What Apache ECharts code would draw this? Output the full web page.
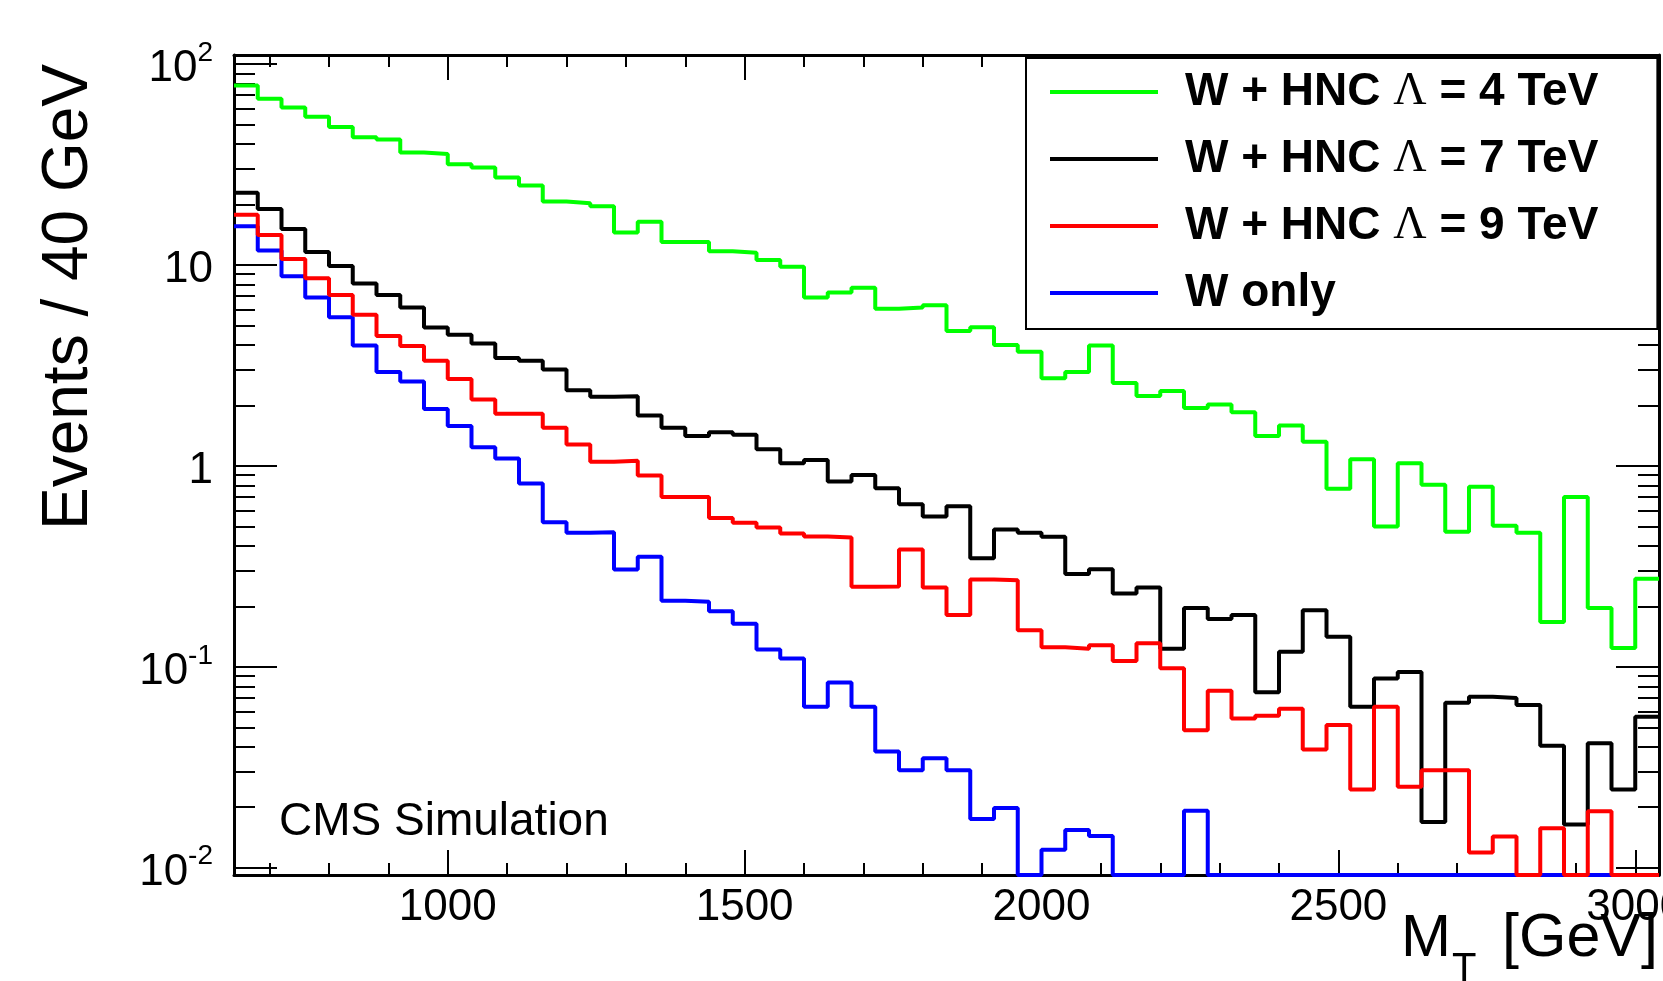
<!DOCTYPE html>
<html>

<head>
    <meta charset="utf-8">
    <title>M_T spectrum, W + HNC</title>
    <!-- Apache ECharts -->
    <script src="https://cdn.jsdelivr.net/npm/echarts@6.0.0/dist/echarts.min.js"></script>
    <style>
        html, body { margin: 0; padding: 0; background: #ffffff; }
        #myChart { width: 1663px; height: 981px; }
    </style>
</head>

<body>
    <div id="myChart"></div>

    <script>
        // bin edges of the histograms (GeV), 40 GeV per bin
        const binEdges = [640, 680, 720, 760, 800, 840, 880, 920, 960, 1000,
            1040, 1080, 1120, 1160, 1200, 1240, 1280, 1320, 1360, 1400,
            1440, 1480, 1520, 1560, 1600, 1640, 1680, 1720, 1760, 1800,
            1840, 1880, 1920, 1960, 2000, 2040, 2080, 2120, 2160, 2200,
            2240, 2280, 2320, 2360, 2400, 2440, 2480, 2520, 2560, 2600,
            2640, 2680, 2720, 2760, 2800, 2840, 2880, 2920, 2960, 3000, 3040];

        // events per bin, one value per bin
        const hnc4 = [78.3, 67.2, 60.9, 54.7, 48.7, 43.3, 42.2, 36.3, 35.7, 31.7,
            30.6, 27.3, 24.9, 20.7, 20.3, 19.6, 14.5, 16.4, 13.0, 13.0,
            11.7, 11.5, 10.6, 9.8, 6.9, 7.3, 7.7, 6.05, 6.15, 6.3,
            4.7, 4.9, 4.0, 3.7, 2.73, 2.93, 3.98, 2.59, 2.23, 2.36,
            1.94, 2.02, 1.85, 1.41, 1.59, 1.32, 0.77, 1.08, 0.50, 1.03,
            0.805, 0.47, 0.787, 0.503, 0.465, 0.167, 0.70, 0.196, 0.124, 0.274];
        const hnc7 = [22.9, 19.0, 15.1, 11.6, 9.9, 8.1, 7.1, 6.15, 4.89, 4.50,
            4.07, 3.44, 3.34, 3.02, 2.38, 2.21, 2.22, 1.78, 1.55, 1.41,
            1.47, 1.43, 1.21, 1.03, 1.07, 0.837, 0.90, 0.775, 0.645, 0.56,
            0.63, 0.347, 0.483, 0.465, 0.444, 0.29, 0.306, 0.232, 0.248, 0.123,
            0.196, 0.173, 0.181, 0.0748, 0.119, 0.191, 0.141, 0.0633, 0.0875, 0.0942,
            0.0169, 0.0662, 0.071, 0.070, 0.0645, 0.0405, 0.0164, 0.0416, 0.0245, 0.0564];
        const hnc9 = [17.8, 14.1, 10.7, 8.6, 7.1, 5.65, 4.43, 3.95, 3.34, 2.71,
            2.14, 1.82, 1.82, 1.55, 1.28, 1.05, 1.06, 0.897, 0.70, 0.70,
            0.55, 0.521, 0.494, 0.461, 0.445, 0.44, 0.25, 0.251, 0.384, 0.248,
            0.181, 0.272, 0.27, 0.152, 0.125, 0.123, 0.128, 0.107, 0.131, 0.0985,
            0.0484, 0.076, 0.0553, 0.057, 0.0618, 0.0388, 0.0514, 0.0245, 0.0633, 0.0253,
            0.0306, 0.0306, 0.0119, 0.0143, 0, 0.0157, 0, 0.0191, 0, 0];
        const wOnly = [15.6, 11.8, 8.8, 6.9, 5.49, 3.98, 2.93, 2.63, 1.92, 1.58,
            1.24, 1.09, 0.818, 0.525, 0.465, 0.467, 0.305, 0.353, 0.213, 0.211,
            0.189, 0.164, 0.122, 0.110, 0.0633, 0.0836, 0.0633, 0.0379, 0.0306, 0.0351,
            0.0306, 0.0175, 0.0198, 0, 0.0123, 0.0154, 0.0144, 0, 0, 0,
            0.0192, 0, 0, 0, 0, 0, 0, 0, 0, 0,
            0, 0, 0, 0, 0, 0, 0, 0, 0, 0];

        const seriesNames = ['W + HNC Λ = 4 TeV', 'W + HNC Λ = 7 TeV', 'W + HNC Λ = 9 TeV', 'W only'];
        const seriesColors = ['#00ff00', '#000000', '#ff0000', '#0000ff'];

        // axis ticks and labels
        const xMajorTicks = [1000, 1500, 2000, 2500, 3000];
        const xMinorTicks = [700, 800, 900, 1100, 1200, 1300, 1400, 1600, 1700, 1800, 1900,
            2100, 2200, 2300, 2400, 2600, 2700, 2800, 2900];
        const yMajorTicks = [0.01, 0.1, 1, 10, 100];
        const yTickLabels = ['10^-2', '10^-1', '1', '10', '10^2'];
        const yMinorTicks = [0.02, 0.03, 0.04, 0.05, 0.06, 0.07, 0.08, 0.09,
            0.2, 0.3, 0.4, 0.5, 0.6, 0.7, 0.8, 0.9,
            2, 3, 4, 5, 6, 7, 8, 9,
            20, 30, 40, 50, 60, 70, 80, 90];

        const X_MIN = 640, X_MAX = 3040;
        const Y_MIN = 0.0092, Y_MAX = 111;
        const FONT = 'Liberation Sans, Arial, Helvetica, sans-serif';
        const LINE_W = 4;

        // empty bins are drawn on the bottom of the frame, like ROOT does on a log scale
        function histPoints(values) {
            const pts = values.map((v, i) => [binEdges[i], Math.max(v, Y_MIN)]);
            const last = values[values.length - 1];
            pts.push([binEdges[values.length], Math.max(last, Y_MIN)]);
            return pts;
        }

        function yLabel(value) {
            const idx = yMajorTicks.findIndex(t => Math.abs(Math.log10(t) - Math.log10(value)) < 1e-6);
            if (idx < 0) return '';
            const parts = yTickLabels[idx].split('^');
            return parts.length > 1 ? `{b|${parts[0]}}{s|${parts[1]}}` : `{b|${parts[0]}}`;
        }

        const frameLine = { show: true, lineStyle: { color: '#000', width: 3 } };
        const noLine = { show: false };

        function xAxisDef(position, ticks, len, withLabels, withLine) {
            return {
                type: 'value', position: position, min: X_MIN, max: X_MAX,
                axisLine: withLine ? frameLine : noLine,
                splitLine: { show: false },
                axisTick: { show: true, inside: true, length: len, customValues: ticks,
                    lineStyle: { color: '#000', width: 2 } },
                axisLabel: withLabels ? {
                    show: true, customValues: ticks, margin: 11,
                    formatter: v => String(v),
                    fontFamily: FONT, fontSize: 44, lineHeight: 44, color: '#000'
                } : { show: false }
            };
        }

        function yAxisDef(position, ticks, len, withLabels, withLine) {
            return {
                type: 'log', logBase: 10, position: position, min: Y_MIN, max: Y_MAX,
                axisLine: withLine ? frameLine : noLine,
                splitLine: { show: false },
                axisTick: { show: true, inside: true, length: len, customValues: ticks,
                    lineStyle: { color: '#000', width: 2 } },
                axisLabel: withLabels ? {
                    show: true, customValues: ticks, margin: 21,
                    formatter: yLabel, padding: [10, 0, 0, 0],
                    rich: {
                        b: { fontFamily: FONT, fontSize: 44, lineHeight: 60, color: '#000' },
                        s: { fontFamily: FONT, fontSize: 28, lineHeight: 28, color: '#000', verticalAlign: 'top' }
                    }
                } : { show: false }
            };
        }

        const allValues = [hnc4, hnc7, hnc9, wOnly];

        const myChart = echarts.init(document.getElementById('myChart'), null, { renderer: 'canvas' });

        const option = {
            backgroundColor: '#ffffff',
            animation: false,
            grid: {
                left: 234, top: 55, right: 4, bottom: 106,
                containLabel: false, outerBoundsMode: 'none'
            },
            xAxis: [
                xAxisDef('bottom', xMajorTicks, 25, true, true),
                xAxisDef('bottom', xMinorTicks, 12, false, false),
                xAxisDef('top', xMajorTicks, 25, false, true),
                xAxisDef('top', xMinorTicks, 12, false, false)
            ],
            yAxis: [
                yAxisDef('left', yMajorTicks, 43, true, true),
                yAxisDef('left', yMinorTicks, 21, false, false),
                yAxisDef('right', yMajorTicks, 43, false, true),
                yAxisDef('right', yMinorTicks, 21, false, false)
            ],
            legend: {
                data: seriesNames.map(n => ({ name: n, icon: 'rect' })),
                orient: 'vertical',
                left: 1026, top: 58,
                padding: [11, 59, 13, 24],
                itemWidth: 108, itemHeight: LINE_W, itemGap: 21,
                borderColor: '#000', borderWidth: 2,
                backgroundColor: '#fff',
                formatter: name => name.replace('Λ', '{l|Λ}'),
                textStyle: {
                    fontFamily: FONT, fontWeight: 'bold', fontSize: 46, lineHeight: 46,
                    color: '#000', padding: [0, 0, 0, 22],
                    rich: {
                        l: { fontFamily: 'Liberation Serif, serif', fontWeight: 'normal',
                            fontSize: 46, lineHeight: 46, color: '#000' }
                    }
                }
            },
            graphic: [
                {
                    type: 'text', x: 69, y: 297, rotation: Math.PI / 2,
                    style: { text: 'Events / 40 GeV', font: '64px ' + FONT, fill: '#000',
                        align: 'center', verticalAlign: 'middle' }
                },
                {
                    type: 'text', x: 1401, y: 939,
                    style: { text: 'M', font: '60px ' + FONT, fill: '#000',
                        align: 'left', verticalAlign: 'middle' }
                },
                {
                    type: 'text', x: 1452, y: 970,
                    style: { text: 'T', font: '40px ' + FONT, fill: '#000',
                        align: 'left', verticalAlign: 'middle' }
                },
                {
                    type: 'text', x: 1658, y: 939,
                    style: { text: '[GeV]', font: '61px ' + FONT, fill: '#000',
                        align: 'right', verticalAlign: 'middle' }
                },
                {
                    type: 'text', x: 279, y: 822,
                    style: { text: 'CMS Simulation', font: '46px ' + FONT, fill: '#000',
                        align: 'left', verticalAlign: 'middle' }
                }
            ],
            series: allValues.map((vals, k) => ({
                name: seriesNames[k],
                type: 'line',
                step: 'end',
                symbol: 'none',
                showSymbol: false,
                xAxisIndex: 0,
                yAxisIndex: 0,
                z: k === 2 ? 4 : 3,
                data: histPoints(vals),
                itemStyle: { color: seriesColors[k] },
                lineStyle: { color: seriesColors[k], width: LINE_W }
            }))
        };

        myChart.setOption(option);
    </script>
</body>

</html>
